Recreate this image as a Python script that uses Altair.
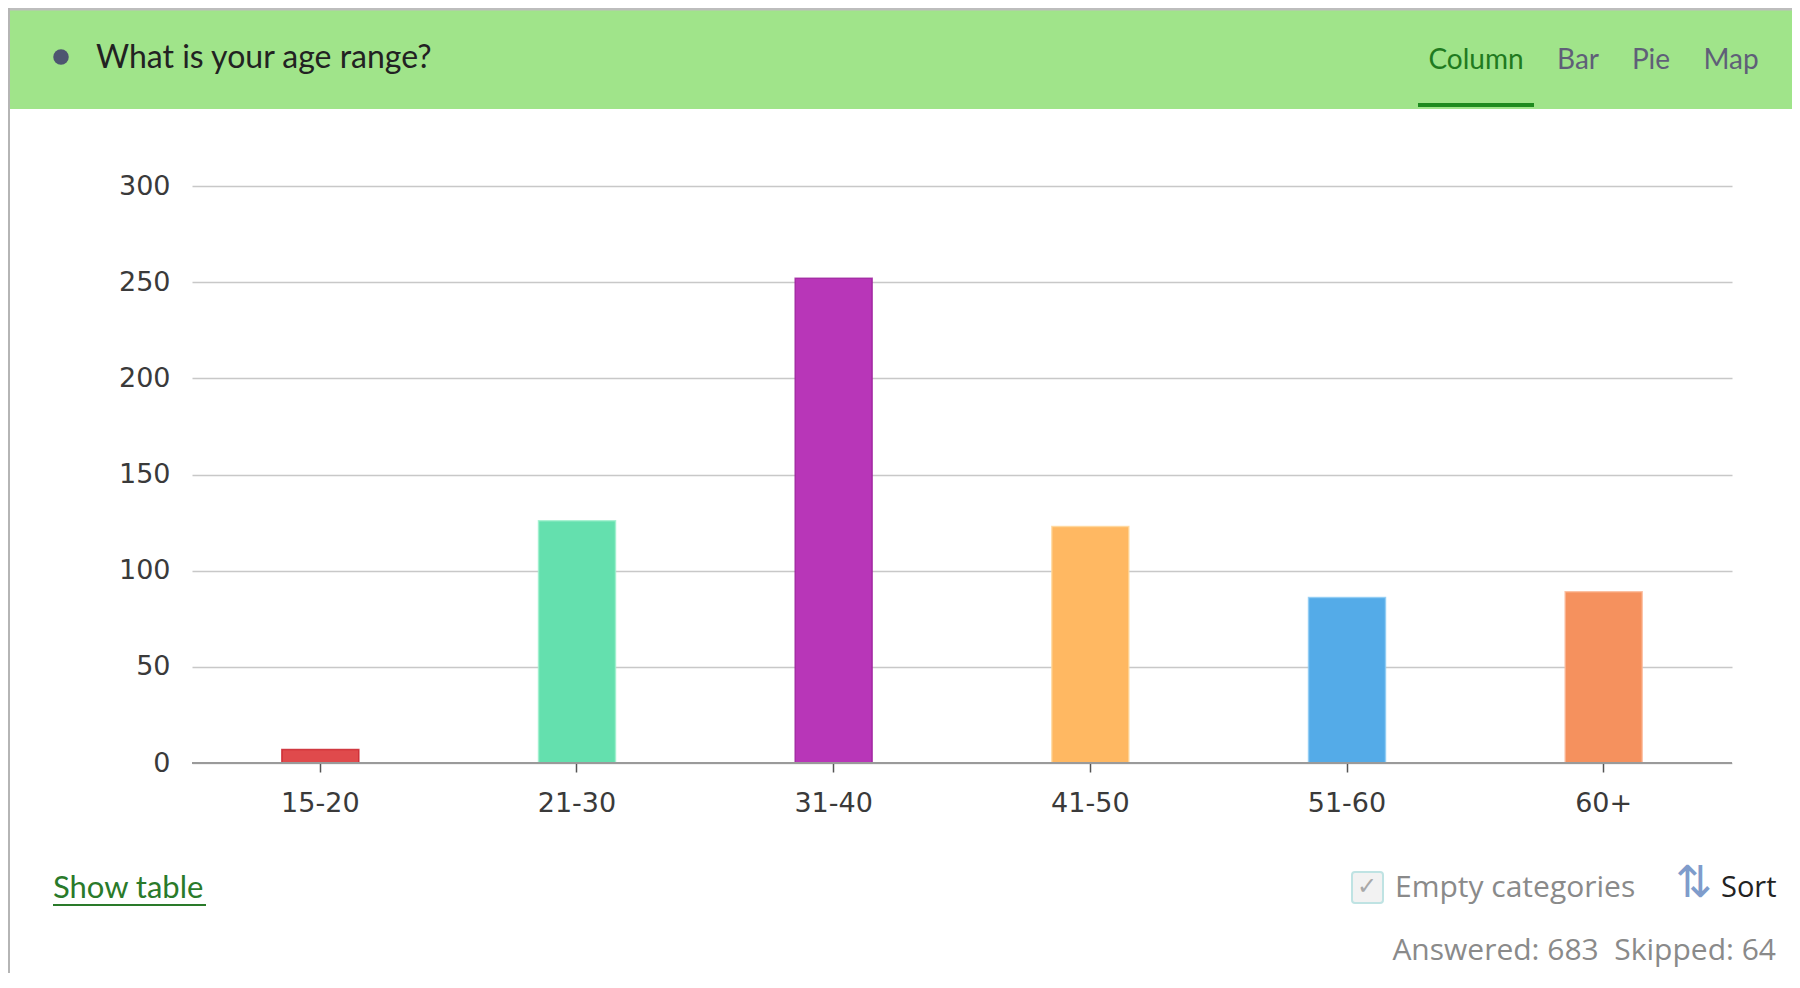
import altair as alt
import pandas as pd

# ---- data ----
categories = ["15-20", "21-30", "31-40", "41-50", "51-60", "60+"]
counts = [7, 126, 252, 123, 86, 89]
bar_colors = ["#e04a4c", "#64e0ae", "#b836b8", "#ffb862", "#54abe8", "#f5915e"]
bar_strokes = ["#c81e28", "#9ef0cc", "#9c1e9c", "#ffd79a", "#8ccbf4", "#fbb896"]
y_ticks = [0, 50, 100, 150, 200, 250, 300]
title_text = "What is your age range?"
tabs = ["Column", "Bar", "Pie", "Map"]
answered = 683
skipped = 64

df = pd.DataFrame({"age": categories, "count": counts})

W, H = 1540, 577
one = pd.DataFrame({"k": [0]})

bars = alt.Chart(df).mark_bar(strokeWidth=1.5, strokeOpacity=0.8).encode(
    x=alt.X("age:N", sort=categories, title=None,
            scale=alt.Scale(paddingInner=0.7, paddingOuter=0.35),
            axis=alt.Axis(labelAngle=0, labelFont="DejaVu Sans", labelFontSize=27,
                          labelColor="#3a3a3a", labelPadding=18, tickSize=9,
                          tickColor="#555555", tickWidth=1.5, domain=False, grid=False)),
    y=alt.Y("count:Q", title=None, scale=alt.Scale(domain=[0, 300], nice=False),
            axis=alt.Axis(values=y_ticks, labelFont="DejaVu Sans", labelFontSize=27,
                          labelColor="#3a3a3a", labelPadding=22, tickSize=0, domain=False,
                          grid=True, gridColor="#c8c8c8", gridWidth=1.5)),
    color=alt.Color("age:N", scale=alt.Scale(domain=categories, range=bar_colors), legend=None),
    stroke=alt.Stroke("age:N", scale=alt.Scale(domain=categories, range=bar_strokes), legend=None),
)

zero_line = alt.Chart(one).mark_rule(color="#9a9a9a", strokeWidth=2).encode(
    x=alt.value(0), x2=alt.value(W), y=alt.value(H))

base = alt.Chart(one)
header = base.mark_rect(color="#a0e48a").encode(
    x=alt.value(-184), x2=alt.value(1600), y=alt.value(-178), y2=alt.value(-77))
top_line = base.mark_rule(color="#bdbdbd", strokeWidth=3).encode(
    x=alt.value(-184), x2=alt.value(1600), y=alt.value(-177))
left_line = base.mark_rule(color="#b5b5b5", strokeWidth=2).encode(
    x=alt.value(-183), y=alt.value(-178), y2=alt.value(800))
dot = base.mark_point(filled=True, color="#4d5670", size=240, opacity=1).encode(
    x=alt.value(-131), y=alt.value(-129))
title = base.mark_text(text=title_text, font="Lato", fontSize=32, color="#222222",
                       align="left", baseline="middle").encode(
    x=alt.value(-96), y=alt.value(-128))

tab_x = [1284, 1386, 1459, 1539]
tab_layers = []
for name, tx in zip(tabs, tab_x):
    col = "#1f7a1f" if name == "Column" else "#5f5f78"
    tab_layers.append(base.mark_text(text=name, font="Lato", fontSize=28, color=col,
                                     align="center", baseline="middle").encode(
        x=alt.value(tx), y=alt.value(-125)))
underline = base.mark_rect(color="#1e8a1e").encode(
    x=alt.value(1226), x2=alt.value(1342), y=alt.value(-83), y2=alt.value(-79))

show_table = base.mark_text(text="Show table", font="Lato", fontSize=31, color="#2a7a2a",
                            align="left", baseline="middle").encode(
    x=alt.value(-139), y=alt.value(703))
show_ul = base.mark_rule(color="#2a7a2a", strokeWidth=2).encode(
    x=alt.value(-139), x2=alt.value(14), y=alt.value(719))

checkbox = base.mark_rect(fill="#f2f2f2", stroke="#bfe3e3", strokeWidth=2, cornerRadius=3).encode(
    x=alt.value(1160), x2=alt.value(1191), y=alt.value(686), y2=alt.value(717))
check = base.mark_text(text="✓", font="DejaVu Sans", fontSize=24, color="#a8a8a8",
                       align="center", baseline="middle").encode(
    x=alt.value(1175), y=alt.value(701))
empty_cat = base.mark_text(text="Empty categories", font="Open Sans", fontSize=30,
                           color="#8a8a8a", align="left", baseline="middle").encode(
    x=alt.value(1203), y=alt.value(702))
sort_icon = base.mark_text(text="⇅", font="DejaVu Sans", fontSize=44, color="#7f9ccb",
                           align="center", baseline="middle").encode(
    x=alt.value(1502), y=alt.value(698))
sort_txt = base.mark_text(text="Sort", font="Open Sans", fontSize=29, color="#222222",
                          align="left", baseline="middle").encode(
    x=alt.value(1529), y=alt.value(702))
stats = base.mark_text(text=f"Answered: {answered}\u00a0\u00a0Skipped: {skipped}", font="Open Sans",
                       fontSize=30, color="#8a8a8a", align="right", baseline="middle").encode(
    x=alt.value(1584), y=alt.value(765))

chart = alt.layer(
    header, top_line, left_line, dot, title, *tab_layers, underline,
    bars, zero_line,
    show_table, show_ul, checkbox, check, empty_cat, sort_icon, sort_txt, stats,
).properties(
    width=W, height=H,
    autosize=alt.AutoSizeParams(type="none"),
    padding={"left": 184, "top": 178, "right": 60, "bottom": 210},
    background="white",
).configure_view(stroke=None)

chart.save("out.html", embed_options={"renderer": "svg", "actions": False})
